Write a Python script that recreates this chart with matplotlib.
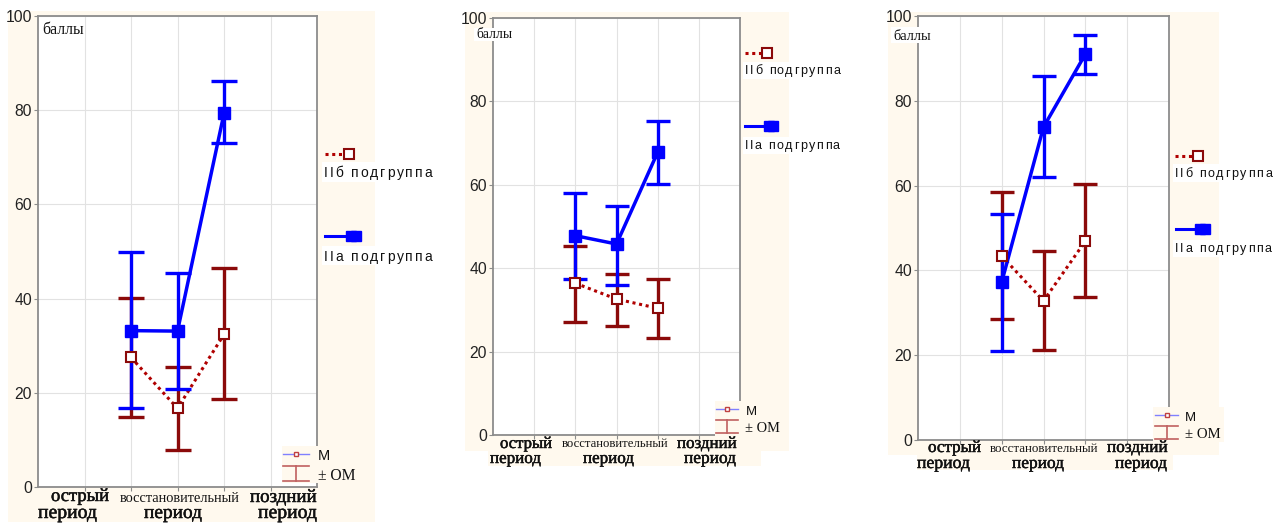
import matplotlib
matplotlib.use('Agg')
import matplotlib.pyplot as plt
from matplotlib.lines import Line2D
from matplotlib.patches import Rectangle
import matplotlib.patheffects as pe

# ---------------- data ----------------
x_pos = [2, 3, 4]
y_ticks = [0, 20, 40, 60, 80, 100]
y_label = 'баллы'
cat_line1 = ['острый', 'восстановительный', 'поздний']
cat_line2 = ['период', 'период', 'период']
series_names = ['IIб подгруппа', 'IIa подгруппа']
small_legend = ['M', '± OM']

p1_a_mean = [33.2, 33.1, 79.3]
p1_a_lo = [16.7, 20.9, 73.0]
p1_a_hi = [50.0, 45.5, 86.2]
p1_b_mean = [27.5, 16.7, 32.4]
p1_b_lo = [14.9, 7.9, 18.7]
p1_b_hi = [40.2, 25.5, 46.6]

p2_a_mean = [47.8, 45.8, 67.8]
p2_a_lo = [37.4, 36.0, 60.2]
p2_a_hi = [58.0, 55.0, 75.3]
p2_b_mean = [36.4, 32.6, 30.4]
p2_b_lo = [27.2, 26.2, 23.3]
p2_b_hi = [45.3, 38.6, 37.4]

p3_a_mean = [37.2, 73.8, 91.0]
p3_a_lo = [21.1, 62.1, 86.4]
p3_a_hi = [53.3, 85.9, 95.6]
p3_b_mean = [43.4, 32.8, 46.9]
p3_b_lo = [28.5, 21.2, 33.7]
p3_b_hi = [58.4, 44.5, 60.3]

# ---------------- styles ----------------
W, H = 1279, 529
CREAM = '#FFF9EE'
BLUE = '#0000FF'
DRED = '#8B0A0A'
LRED = '#B00000'
SPINE = '#8C8C8C'
GRID = '#E2E2E2'

fig = plt.figure(figsize=(W / 100, H / 100), dpi=100)
fig.patch.set_facecolor('white')
renderer = fig.canvas.get_renderer()


def fx(x):
    return x / W


def fy(y):
    return 1 - y / H


def rect(x0, y0, x1, y1, color, z=-5):
    r = Rectangle((fx(x0), fy(y1)), (x1 - x0) / W, (y1 - y0) / H,
                  transform=fig.transFigure, facecolor=color,
                  edgecolor='none', zorder=z)
    fig.add_artist(r)


def put(text, x0, x1, yb, family, z=10, **kw):
    t = fig.text(fx(x0), fy(yb), text, family=family, fontsize=10,
                 va='baseline', ha='left', zorder=z, color='#111111', **kw)
    w = t.get_window_extent(renderer).width
    t.set_fontsize(10 * (x1 - x0) / w)
    return t


def put_spaced(text, x0, x1, yb, size=9.5, family='Liberation Sans', z=10):
    # letter-spaced text, as in the original legend
    items = []
    widths = []
    sp_w = 0.3 * size * 100 / 72
    for ch in text:
        if ch == ' ':
            items.append(None)
            widths.append(sp_w)
            continue
        t = fig.text(0, fy(yb), ch, family=family, fontsize=size,
                     va='baseline', ha='left', zorder=z, color='#111111')
        items.append(t)
        widths.append(t.get_window_extent(renderer).width)
    n = len(text)
    extra = (x1 - x0 - sum(widths)) / (n - 1)
    x = x0
    for t, w in zip(items, widths):
        if t is not None:
            t.set_x(fx(x))
        x += w + extra


def fline(xs, ys, z=11, **kw):
    ln = Line2D([fx(v) for v in xs], [fy(v) for v in ys],
                transform=fig.transFigure, zorder=z, **kw)
    fig.add_artist(ln)
    return ln


panels = [
    dict(ax=(38, 317, 16, 487),
         bg=[(8, 11, 375, 522)],
         data=(p1_a_mean, p1_a_lo, p1_a_hi, p1_b_mean, p1_b_lo, p1_b_hi),
         cap=9.7, lsize=10,
         ylab=(42, 84, 34, (40, 23, 85, 37)),
         cats=[(51, 109, 501, 38, 97, 518),
               (120, 241, 502, 144, 202, 518),
               (250, 317, 502, 258, 317, 518)],
         leg_b=(325, 343, 154, 349, (324, 432, 177), (322, 162, 433, 182)),
         leg_a=(325, 347, 236, 351, 356, (324, 432, 261), (322, 246, 433, 265)),
         small=dict(box=(282, 446, 360, 483), line=(283, 309, 454),
                    M=(318, 330, 460), err=(283, 309, 466, 481),
                    OM=(318, 356, 480))),
    dict(ax=(493, 740, 18, 435),
         bg=[(465, 12, 789, 451), (488, 451, 761, 466)],
         data=(p2_a_mean, p2_a_lo, p2_a_hi, p2_b_mean, p2_b_lo, p2_b_hi),
         cap=8.8, lsize=9,
         ylab=(476, 512, 38, (474, 28, 515, 41)),
         cats=[(500, 552, 448, 490, 541, 463),
               (562, 669, 447, 583, 634, 463),
               (677, 737, 448, 684, 736, 463)],
         leg_b=(745, 762, 53, 767, (745, 840, 74), (743, 62, 842, 79)),
         leg_a=(745, 766, 126, 769, 773, (745, 840, 149), (743, 137, 842, 154)),
         small=dict(box=(715, 401, 785, 436), line=(716, 738, 409),
                    M=(746, 757, 415), err=(716, 738, 420, 433),
                    OM=(745, 780, 432))),
    dict(ax=(918, 1169, 16, 440),
         bg=[(888, 12, 1219, 455), (917, 455, 1173, 470)],
         data=(p3_a_mean, p3_a_lo, p3_a_hi, p3_b_mean, p3_b_lo, p3_b_hi),
         cap=8.9, lsize=9,
         ylab=(893, 931, 40, (891, 27, 934, 43)),
         cats=[(928, 981, 452, 917, 970, 468),
               (990, 1099, 452, 1012, 1064, 468),
               (1107, 1168, 452, 1115, 1167, 468)],
         leg_b=(1175, 1192, 156, 1198, (1175, 1272, 177), (1173, 164, 1275, 182)),
         leg_a=(1176, 1197, 229, 1200, 1205, (1175, 1272, 252), (1173, 240, 1275, 257)),
         small=dict(box=(1153, 407, 1224, 442), line=(1155, 1178, 415),
                    M=(1185, 1196, 421), err=(1155, 1178, 426, 439),
                    OM=(1185, 1221, 438))),
]

embolden = [pe.withStroke(linewidth=0.35, foreground='#111111')]

for P in panels:
    for b in P['bg']:
        rect(*b, CREAM, z=-5)
    l, r, t, b = P['ax']
    ax = fig.add_axes([fx(l), fy(b), (r - l) / W, (b - t) / H])
    ax.set_facecolor('white')
    ax.set_xlim(0, 6)
    ax.set_ylim(0, 100)
    ax.set_xticks([1, 2, 3, 4, 5])
    ax.set_xticklabels([])
    ax.set_yticks(y_ticks)
    ax.set_yticklabels([str(v) for v in y_ticks], family='Liberation Sans',
                       fontsize=11.3, color='#222222')
    ax.tick_params(length=3, width=0.8, color=SPINE, pad=1.2)
    ax.grid(True, color=GRID, lw=0.8)
    ax.set_axisbelow(True)
    for s in ax.spines.values():
        s.set_color(SPINE)
        s.set_linewidth(1.3)

    am, alo, ahi, bm, blo, bhi = P['data']
    b_err = [[m - lo for m, lo in zip(bm, blo)], [hi - m for m, hi in zip(bm, bhi)]]
    a_err = [[m - lo for m, lo in zip(am, alo)], [hi - m for m, hi in zip(am, ahi)]]
    ax.errorbar(x_pos, bm, yerr=b_err, fmt='none', ecolor=DRED,
                elinewidth=2.4, capsize=P['cap'], capthick=2.4, zorder=3)
    ax.plot(x_pos, bm, color=LRED, lw=2.2, ls=(0, (1, 1.2)), zorder=4)
    ax.errorbar(x_pos, am, yerr=a_err, fmt='none', ecolor=BLUE,
                elinewidth=2.4, capsize=P['cap'], capthick=2.4, zorder=5)
    ax.plot(x_pos, am, color=BLUE, lw=2.5, marker='s', ms=8,
            mfc=BLUE, mec=BLUE, zorder=6)
    ax.plot(x_pos, bm, ls='none', marker='s', ms=7, mfc='white',
            mec=DRED, mew=1.5, zorder=7)

    # y label "баллы"
    x0, x1, yb, box = P['ylab']
    rect(box[0], box[1], box[2], box[3], 'white', z=8)
    put(y_label, x0, x1, yb, 'Liberation Serif')

    # category labels
    for i, ((a0, a1, ab, c0, c1, cb), s1, s2) in enumerate(zip(P['cats'], cat_line1, cat_line2)):
        t1 = put(s1, a0, a1, ab, 'Liberation Serif')
        if i != 1:
            t1.set_path_effects(embolden)
        t2 = put(s2, c0, c1, cb, 'Liberation Serif')
        t2.set_path_effects(embolden)

    # right legend
    lx0, lx1, ly, mx, (tx0, tx1, tyb), wb = P['leg_b']
    rect(*wb, 'white', z=8)
    fline([lx0, lx1], [ly, ly], color=LRED, lw=2.2, ls=(0, (1, 1.2)))
    fline([mx], [ly], marker='s', ms=7, mfc='white', mec=DRED, mew=1.5, ls='none')
    put_spaced(series_names[0], tx0, tx1, tyb, size=P['lsize'])

    lx0, lx1, ly, m1, m2, (tx0, tx1, tyb), wb = P['leg_a']
    rect(*wb, 'white', z=8)
    fline([lx0, lx1], [ly, ly], color=BLUE, lw=2.2)
    fline([m1, m2], [ly, ly], marker='s', ms=7.5, mfc=BLUE, mec=BLUE, ls='none')
    put_spaced(series_names[1], tx0, tx1, tyb, size=P['lsize'])

    # small legend
    S = P['small']
    rect(*S['box'], CREAM, z=9)
    sx0, sx1, sy = S['line']
    fline([sx0, sx1], [sy, sy], color='#8080FF', lw=1.0)
    fline([(sx0 + sx1) / 2], [sy], marker='s', ms=3.5, mfc='white',
          mec='#C04040', mew=1.0, ls='none', z=12)
    put(small_legend[0], S['M'][0], S['M'][1], S['M'][2], 'Liberation Sans')
    ex0, ex1, et, eb = S['err']
    ec = '#C06060'
    fline([ex0, ex1], [et, et], color=ec, lw=1.2)
    fline([ex0, ex1], [eb, eb], color=ec, lw=1.2)
    fline([(ex0 + ex1) / 2] * 2, [et, eb], color=ec, lw=1.2)
    put(small_legend[1], S['OM'][0], S['OM'][1], S['OM'][2], 'Liberation Serif')

fig.savefig('out.png', dpi=100, facecolor='white')
